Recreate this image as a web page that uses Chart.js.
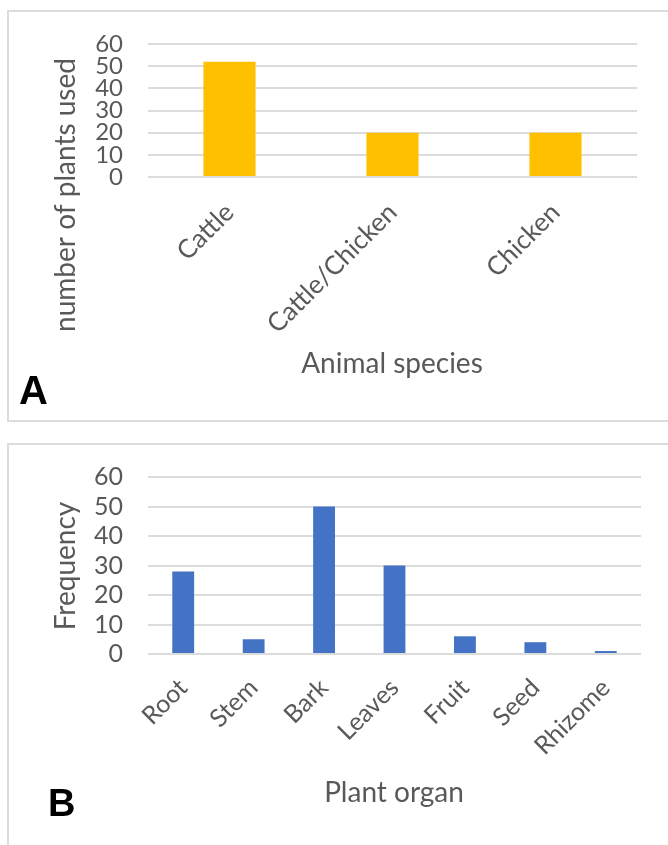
<!DOCTYPE html>
<html>
<head>
<meta charset="utf-8">
<script src="https://cdn.jsdelivr.net/npm/chart.js@4/dist/chart.umd.min.js"></script>
<style>
  html, body { margin: 0; padding: 0; background: #ffffff; }
  body { width: 668px; height: 845px; position: relative; overflow: hidden; }
  .frame { position: absolute; box-sizing: border-box; border: 2px solid #dcdcdc; }
  #frameA { left: 7px; top: 10px; width: 680px; height: 412px; }
  #frameB { left: 7px; top: 443px; width: 680px; height: 460px; }
  canvas { position: absolute; left: 0; }
  #chartA { top: 0; }
  #chartB { top: 430px; }
</style>
</head>
<body>
<div class="frame" id="frameA"></div>
<div class="frame" id="frameB"></div>
<canvas id="chartA" width="668" height="430"></canvas>
<canvas id="chartB" width="668" height="415"></canvas>
<script>
// Panel A: plants used per animal species
const speciesLabels = ['Cattle', 'Cattle/Chicken', 'Chicken'];
const plantsUsed = [52, 20, 20];

// Panel B: plant organs used
const organLabels = ['Root', 'Stem', 'Bark', 'Leaves', 'Fruit', 'Seed', 'Rhizome'];
const organFrequency = [28, 5, 50, 30, 6, 4, 1];

// Shared value axis
const yMin = 0;
const yMax = 60;
const yStep = 10;

const FONT = "Lato, 'Open Sans', sans-serif";
const TEXT = '#595959';
const GRID = '#dcdcdc';

// Axis titles and the panel letter, drawn on top of each chart
const panelText = {
  id: 'panelText',
  afterDraw(chart, args, o) {
    const ctx = chart.ctx;
    ctx.save();
    ctx.fillStyle = TEXT;
    ctx.font = '28px ' + FONT;
    ctx.textAlign = 'center';
    ctx.textBaseline = 'alphabetic';
    ctx.fillText(o.xTitle, o.xTitleX, o.xTitleY);
    ctx.save();
    ctx.translate(o.yTitleX, o.yTitleY);
    ctx.rotate(-Math.PI / 2);
    ctx.fillText(o.yTitle, 0, 0);
    ctx.restore();
    ctx.fillStyle = '#000000';
    ctx.font = 'bold ' + o.letterSize + 'px "Liberation Sans", Arial, sans-serif';
    ctx.textAlign = 'left';
    ctx.fillText(o.letter, o.letterX, o.letterY);
    ctx.restore();
  }
};

function makeChart(id, labels, values, color, cfg) {
  return new Chart(document.getElementById(id), {
    type: 'bar',
    data: {
      labels: labels,
      datasets: [{
        data: values,
        backgroundColor: color,
        borderWidth: 0,
        categoryPercentage: 1,
        barPercentage: cfg.barPct
      }]
    },
    options: {
      responsive: false,
      animation: false,
      events: [],
      layout: { padding: { top: cfg.top, right: cfg.right, left: 0, bottom: 0 } },
      plugins: {
        legend: { display: false },
        tooltip: { enabled: false },
        panelText: cfg.text
      },
      scales: {
        x: {
          grid: { display: false, drawTicks: false },
          border: { display: false },
          ticks: {
            autoSkip: false,
            minRotation: 45,
            maxRotation: 45,
            padding: cfg.xPad,
            color: TEXT,
            font: { family: FONT, size: cfg.xSize }
          },
          afterFit(scale) { scale.height = cfg.xHeight; }
        },
        y: {
          min: yMin,
          max: yMax,
          grid: { color: GRID, lineWidth: 2, drawTicks: false },
          border: { display: false },
          ticks: {
            autoSkip: false,
            stepSize: yStep,
            padding: 25,
            color: TEXT,
            font: { family: FONT, size: cfg.ySize }
          },
          afterFit(scale) { scale.width = 148; }
        }
      }
    },
    plugins: [panelText]
  });
}

makeChart('chartA', speciesLabels, plantsUsed, '#ffc000', {
  barPct: 0.32, top: 44, right: 31, xHeight: 253, xPad: 20, xSize: 26, ySize: 24,
  text: {
    xTitle: 'Animal species', xTitleX: 392, xTitleY: 373,
    yTitle: 'number of plants used', yTitleX: 75, yTitleY: 195,
    letter: 'A', letterSize: 40, letterX: 19, letterY: 404
  }
});

makeChart('chartB', organLabels, organFrequency, '#4472c4', {
  barPct: 0.31, top: 47, right: 27, xHeight: 191, xPad: 19, xSize: 25, ySize: 25,
  text: {
    xTitle: 'Plant organ', xTitleX: 394, xTitleY: 372,
    yTitle: 'Frequency', yTitleX: 75, yTitleY: 136,
    letter: 'B', letterSize: 38, letterX: 48, letterY: 386
  }
});
</script>
</body>
</html>
